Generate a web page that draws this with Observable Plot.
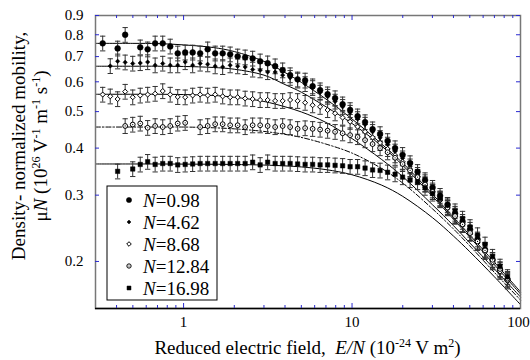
<!DOCTYPE html>
<html><head><meta charset="utf-8">
<script src="https://cdn.jsdelivr.net/npm/d3@7"></script>
<script src="https://cdn.jsdelivr.net/npm/@observablehq/plot@0.6"></script>
<style>
html,body{margin:0;padding:0;background:#fff;}
#chart{width:530px;height:360px;}
</style></head><body><div id="chart"></div>
<script>
// ---------- data ----------
const seriesNames = ["N=0.98","N=4.62","N=8.68","N=12.84","N=16.98"];
const fieldValues = [0.331,0.367,0.406,0.450,0.499,0.553,0.612,0.678,0.752,0.833,0.923,1.022,1.132,1.254,1.390,1.540,1.706,1.890,2.094,2.320,2.570,2.848,3.155,3.496,3.873,4.291,4.753,5.266,5.834,6.463,7.161,7.933,8.790,9.739,10.79,11.95,13.24,14.67,16.26,18.01,19.95,22.11,24.49,27.13,30.06,33.31,36.90,40.88,45.29,50.18,55.59,61.59,68.23,75.60,83.75];
const mobility098 = [0.759,null,0.736,0.800,null,0.741,0.732,0.759,0.759,0.745,0.714,0.718,0.718,0.714,0.732,0.714,0.714,0.710,0.701,0.697,0.692,0.680,0.672,0.660,0.644,0.625,0.609,0.605,0.584,0.570,0.556,0.543,0.523,0.505,0.486,0.469,0.449,0.436,0.418,0.400,0.384,0.365,0.346,0.329,0.314,0.299,0.283,0.268,0.255,0.243,0.229,0.215,0.202,0.190,0.179];
const mobility462 = [null,0.661,0.680,0.676,0.671,0.673,0.677,0.664,0.671,0.664,0.664,0.677,0.664,0.671,0.668,0.660,0.657,0.664,0.660,0.657,0.647,0.644,0.637,0.637,0.625,0.615,0.605,0.592,0.578,0.562,0.548,0.532,0.515,0.497,0.478,0.462,0.442,0.426,0.409,0.392,0.376,0.358,0.340,0.325,0.309,0.294,0.279,0.265,0.251,0.238,0.225,0.213,0.200,0.188,0.177];
const mobility868 = [0.555,0.549,0.540,0.565,0.546,0.552,0.555,0.558,0.567,0.555,0.547,0.546,0.552,0.555,0.552,0.555,0.549,0.546,0.546,0.542,0.540,0.537,0.537,0.534,0.534,0.537,0.534,0.528,0.520,0.515,0.505,0.495,0.482,0.470,0.456,0.442,0.427,0.413,0.398,0.383,0.368,0.352,0.336,0.321,0.306,0.291,0.277,0.263,0.250,0.237,0.224,0.212,0.199,0.188,0.178];
const mobility1284 = [null,null,null,0.458,0.462,0.465,0.453,0.458,0.455,0.458,0.465,0.467,null,0.455,0.458,0.463,0.463,0.460,0.460,0.455,0.460,0.460,0.458,0.455,0.458,0.455,0.450,0.452,0.450,0.448,0.445,0.442,0.438,0.433,0.428,0.420,0.410,0.400,0.390,0.377,0.363,0.349,0.335,0.320,0.306,0.292,0.278,0.264,0.251,0.238,0.226,0.214,0.202,0.191,0.180];
const mobility1698 = [null,null,0.347,null,0.352,0.362,0.368,0.362,0.364,0.364,0.361,0.362,0.363,0.364,0.364,0.364,0.364,0.364,0.364,0.364,0.367,0.361,0.367,0.364,0.364,0.364,0.363,0.362,0.362,0.361,0.361,0.360,0.359,0.357,0.357,0.354,0.350,0.349,0.345,0.341,0.335,0.329,0.325,0.314,0.303,0.294,0.282,0.272,0.260,0.247,0.235,0.222,0.206,0.194,0.182];
const errorFraction = 0.045;

const fitField = [0.3,0.5,0.7,1,1.5,2,3,4,5,7,10,15,20,30,40,50,70,100];
const fit098  = [0.759,0.759,0.758,0.752,0.740,0.722,0.680,0.635,0.598,0.540,0.478,0.410,0.365,0.302,0.262,0.235,0.199,0.166];
const fit462  = [0.660,0.660,0.660,0.659,0.655,0.648,0.625,0.590,0.563,0.515,0.465,0.405,0.360,0.298,0.259,0.232,0.196,0.164];
const fit868  = [0.556,0.556,0.556,0.555,0.552,0.546,0.532,0.515,0.499,0.468,0.424,0.373,0.336,0.283,0.249,0.224,0.191,0.161];
const fit1284 = [0.455,0.455,0.455,0.455,0.453,0.450,0.443,0.435,0.427,0.410,0.388,0.353,0.323,0.276,0.244,0.220,0.187,0.158];
const fit1698 = [0.363,0.363,0.363,0.3627,0.3624,0.3619,0.3606,0.3588,0.3565,0.3507,0.3398,0.3189,0.2978,0.2615,0.2336,0.2123,0.1821,0.1536];

const xMajorTicks = [1, 10, 100];
const xMinorTicks = [0.4,0.5,0.6,0.7,0.8,0.9,2,3,4,5,6,7,8,9,20,30,40,50,60,70,80,90];
const yTicks = [0.2,0.3,0.4,0.5,0.6,0.7,0.8,0.9];

// ---------- build ----------
const mobility = [mobility098, mobility462, mobility868, mobility1284, mobility1698];
const fits = [fit098, fit462, fit868, fit1284, fit1698];
const pointsBySeries = mobility.map((arr, i) => arr.map((v, j) => v == null ? null : {series: seriesNames[i], x: fieldValues[j], y: v}).filter(d => d));
const allPoints = pointsBySeries.flat();
const fitRows = fits.map((arr, i) => arr.map((v, j) => ({series: seriesNames[i], x: fitField[j], y: v})));

const W = 530, H = 360, mL = 95, mR = 10, mT = 15, mB = 52;
const innerW = W - mL - mR, innerH = H - mT - mB;
const tickBlue = "#2a2ad0";
const serif = "'Liberation Serif', 'DejaVu Serif', serif";

const markerStyle = [
  {symbol: "circle", r: 2.9, fill: "black", stroke: "black", strokeWidth: 0.5},
  {symbol: "diamond2", r: 2.0, fill: "black", stroke: "black", strokeWidth: 0.5},
  {symbol: "diamond2", r: 2.3, fill: "white", stroke: "black", strokeWidth: 1},
  {symbol: "circle", r: 2.4, fill: "white", stroke: "black", strokeWidth: 1},
  {symbol: "square", r: 2.5, fill: "black", stroke: "black", strokeWidth: 0.5}
];
const capSymbol = {draw(ctx, size) { const w = Math.sqrt(size); ctx.moveTo(-w, 0); ctx.lineTo(w, 0); }};

const marks = [];
fitRows.forEach((rows, i) => {
  marks.push(Plot.line(rows, {x: "x", y: "y", stroke: "black", strokeWidth: 1, curve: "catmull-rom",
    strokeDasharray: i === 3 ? "5,2,1.5,2" : null}));
});
marks.push(Plot.ruleX(allPoints, {x: "x", y1: d => d.y * (1 - errorFraction), y2: d => d.y * (1 + errorFraction), stroke: "#333", strokeWidth: 1}));
marks.push(Plot.dot(allPoints, {x: "x", y: d => d.y * (1 + errorFraction), symbol: capSymbol, r: 1.5, fill: "none", stroke: "#333", strokeWidth: 1}));
marks.push(Plot.dot(allPoints, {x: "x", y: d => d.y * (1 - errorFraction), symbol: capSymbol, r: 1.5, fill: "none", stroke: "#333", strokeWidth: 1}));
pointsBySeries.forEach((pts, i) => {
  marks.push(Plot.dot(pts, {x: "x", y: "y", ...markerStyle[i]}));
  if (i === 3) marks.push(Plot.dot(pts, {x: "x", y: "y", r: 0.6, fill: "black", stroke: "none"}));
});
marks.push(Plot.frame({stroke: "#777", strokeWidth: 1.5}));
marks.push(Plot.ruleY([0.15], {stroke: "black", strokeWidth: 1.5}));
marks.push(Plot.ruleX(xMajorTicks.slice(0, 2), {insetTop: innerH - 5, stroke: tickBlue}));
marks.push(Plot.ruleX(xMajorTicks.slice(0, 2), {insetBottom: innerH - 5, stroke: tickBlue}));
marks.push(Plot.ruleX(xMinorTicks, {insetTop: innerH - 3, stroke: tickBlue}));
marks.push(Plot.ruleX(xMinorTicks, {insetBottom: innerH - 3, stroke: tickBlue}));
marks.push(Plot.ruleY(yTicks, {insetRight: innerW - 4, stroke: tickBlue}));
marks.push(Plot.ruleY(yTicks, {insetLeft: innerW - 4, stroke: tickBlue}));
marks.push(Plot.axisY(yTicks, {tickSize: 0, tickPadding: 12, tickFormat: d => d.toFixed(1), fontSize: 15, label: null}));
marks.push(Plot.axisX(xMajorTicks.slice(0, 2), {tickSize: 0, tickPadding: 8, tickFormat: d => String(d), fontSize: 15, label: null}));
marks.push(Plot.axisX(xMajorTicks.slice(2), {tickSize: 0, tickPadding: 8, tickFormat: d => String(d), fontSize: 15, label: null, dx: -2}));

const svg = Plot.plot({
  width: W, height: H,
  marginLeft: mL, marginRight: mR, marginTop: mT, marginBottom: mB,
  x: {type: "log", domain: [0.3, 100]},
  y: {type: "log", domain: [0.15, 0.9]},
  style: {fontFamily: serif, fontSize: "15px", color: "black", background: "white", overflow: "visible"},
  marks
});

// ---------- titles & legend ----------
const s = d3.select(svg);
// segments: [text, kind] kind: "n" normal, "i" italic, "s" superscript
function richText(sel, segs) {
  let inSup = false;
  segs.forEach(([txt, kind]) => {
    const t = sel.append("tspan").text(txt);
    if (kind === "s") { t.attr("dy", inSup ? 0 : -7).style("font-size", "12px"); inSup = true; }
    else { if (inSup) t.attr("dy", 7); inSup = false; if (kind === "i") t.style("font-style", "italic"); }
  });
}
s.append("text").attr("transform", "translate(25,146) rotate(-90)").attr("text-anchor", "middle")
  .style("font-family", serif).style("font-size", "19px").attr("fill", "black").text("Density- normalized mobility,");
const yt2 = s.append("text").attr("transform", "translate(47,146) rotate(-90)").attr("text-anchor", "middle")
  .style("font-family", serif).style("font-size", "19px").style("white-space", "pre").attr("fill", "black");
richText(yt2, [["\u03bc","n"],["N","i"],[" (10","n"],["26","s"],[" V","n"],["-1","s"],[" m","n"],["-1","s"],[" s","n"],["-1","s"],[")","n"]]);
const xt = s.append("text").attr("x", (mL + W - mR) / 2).attr("y", 354).attr("text-anchor", "middle")
  .style("font-family", serif).style("font-size", "19px").style("white-space", "pre").attr("fill", "black");
richText(xt, [["Reduced electric field,  ","n"],["E/N","i"],[" (10","n"],["-24","s"],[" V m","n"],["2","s"],[")","n"]]);

const lg = s.append("g");
lg.append("rect").attr("x", 107).attr("y", 186).attr("width", 110).attr("height", 114)
  .attr("fill", "white").attr("stroke", "black").attr("stroke-width", 1);
const d3Sym = {circle: d3.symbolCircle, diamond2: d3.symbolDiamond2, square: d3.symbolSquare};
seriesNames.forEach((name, i) => {
  const cy = 200 + i * 22;
  const st = markerStyle[i];
  lg.append("path").attr("transform", `translate(129,${cy})`)
    .attr("d", d3.symbol(d3Sym[st.symbol], Math.PI * st.r * st.r * 0.8)())
    .attr("fill", st.fill).attr("stroke", st.stroke).attr("stroke-width", st.strokeWidth);
  if (i === 3) lg.append("circle").attr("cx", 129).attr("cy", cy).attr("r", 0.6).attr("fill", "black");
  const t = lg.append("text").attr("x", 143).attr("y", cy + 6.5).attr("text-anchor", "start")
    .style("font-family", serif).style("font-size", "19px").attr("fill", "black");
  richText(t, [["N","i"],[name.slice(1),"n"]]);
});

document.getElementById("chart").appendChild(svg);
</script></body></html>
